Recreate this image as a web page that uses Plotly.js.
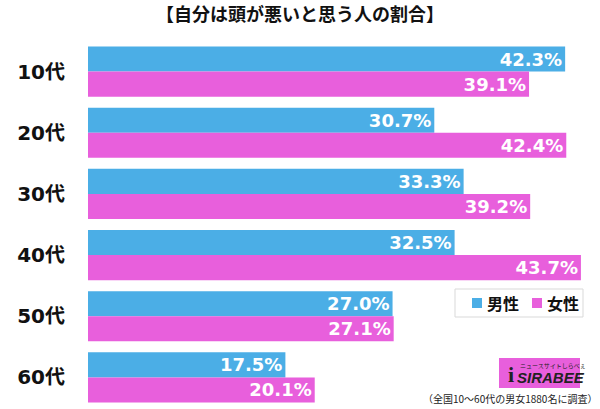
<!DOCTYPE html>
<html><head><meta charset="utf-8">
<script src="https://cdn.plot.ly/plotly-3.0.1.min.js"></script>
<style>html,body{margin:0;padding:0;background:#fff}#c{width:600px;height:409px}</style>
</head><body><div id="c"></div>
<script>
const categories = ['10代','20代','30代','40代','50代','60代'];
const male = [42.3, 30.7, 33.3, 32.5, 27.0, 17.5];
const female = [39.1, 42.4, 39.2, 43.7, 27.1, 20.1];
const seriesNames = ['男性','女性'];
const titleText = '【自分は頭が悪いと思う人の割合】';
const noteText = '（全国10〜60代の男女1880名に調査）';

const BLUE = '#4baee6', PINK = '#e85fdc';
const L = 88, W = 512, T = 41, H = 367;
const px = x => (x - L) / W;
const py = y => (T + H - y) / H;
const labelFont = {family:'DejaVu Sans, sans-serif', size:18, color:'#fff', weight:'bold'};
function mk(vals, name, color){
  return {type:'bar', orientation:'h', x:vals, y:categories, name:name,
    marker:{color:color, line:{width:0}},
    text:vals.map(v=>v.toFixed(1)+'%'), textposition:'inside', insidetextanchor:'end',
    textangle:0, constraintext:'none', textfont:labelFont, hoverinfo:'skip', cliponaxis:false};
}
const data = [mk(male, seriesNames[0], BLUE), mk(female, seriesNames[1], PINK)];
const legFont = {family:'Noto Sans CJK JP', size:16, color:'#111', weight:'bold'};
const layout = {
  width:600, height:409, margin:{l:L, r:600-L-W, t:T, b:409-T-H},
  paper_bgcolor:'#fff', plot_bgcolor:'#fff',
  barmode:'group', bargap:0.18, bargroupgap:0,
  title:{text:titleText, x:0.5, xref:'container', xanchor:'center', y:1-15/409, yref:'container', yanchor:'middle',
    font:{family:'Noto Sans CJK JP', size:18, color:'#111', weight:'bold'}},
  xaxis:{range:[0, W/11.28], showgrid:false, zeroline:false, showticklabels:false, showline:false, fixedrange:true},
  yaxis:{autorange:'reversed', showgrid:false, zeroline:false, showline:false, ticks:'',
    ticklabelstandoff:22, tickfont:{family:'DejaVu Sans, Noto Sans CJK JP', size:20, color:'#111', weight:'bold'}},
  showlegend:false,
  shapes:[
    {type:'rect', xref:'paper', yref:'paper', x0:px(455), x1:px(583), y0:py(317), y1:py(289),
     fillcolor:'#fff', line:{width:1, color:'#d9d9d9'}, layer:'above'},
    {type:'rect', xref:'paper', yref:'paper', x0:px(472), x1:px(482), y0:py(308), y1:py(298),
     fillcolor:BLUE, line:{width:0}, layer:'above'},
    {type:'rect', xref:'paper', yref:'paper', x0:px(532), x1:px(542), y0:py(308), y1:py(298),
     fillcolor:PINK, line:{width:0}, layer:'above'},
    {type:'rect', xref:'paper', yref:'paper', x0:px(499), x1:px(580), y0:py(388), y1:py(358),
     fillcolor:PINK, line:{width:0}, layer:'above'}
  ],
  annotations:[
    {text:seriesNames[0], xref:'paper', yref:'paper', x:px(485), y:py(303), xanchor:'left', yanchor:'middle',
     showarrow:false, font:legFont},
    {text:seriesNames[1], xref:'paper', yref:'paper', x:px(545), y:py(303), xanchor:'left', yanchor:'middle',
     showarrow:false, font:legFont},
    {text:'<i>SIRABEE</i>', xref:'paper', yref:'paper', x:px(551), y:py(377), xanchor:'center', yanchor:'middle',
     showarrow:false, font:{family:'Liberation Sans, Arial', size:15, color:'#222', weight:'bold'}},
    {text:'ニュースサイトしらべぇ', xref:'paper', yref:'paper', x:px(553), y:py(365), xanchor:'center', yanchor:'middle',
     showarrow:false, font:{family:'Noto Sans CJK JP', size:6, color:'#222'}},
    {text:'<b>i</b>', xref:'paper', yref:'paper', x:px(511), y:py(374), xanchor:'center', yanchor:'middle',
     showarrow:false, font:{family:'Liberation Serif', size:22, color:'#222', weight:'bold'}},
    {text:noteText, xref:'paper', yref:'paper', x:px(599), y:py(398), xanchor:'right', yanchor:'middle',
     showarrow:false, font:{family:'Noto Sans CJK JP', size:10, color:'#222'}}
  ]
};
Plotly.newPlot('c', data, layout, {displayModeBar:false, staticPlot:true});
</script></body></html>
